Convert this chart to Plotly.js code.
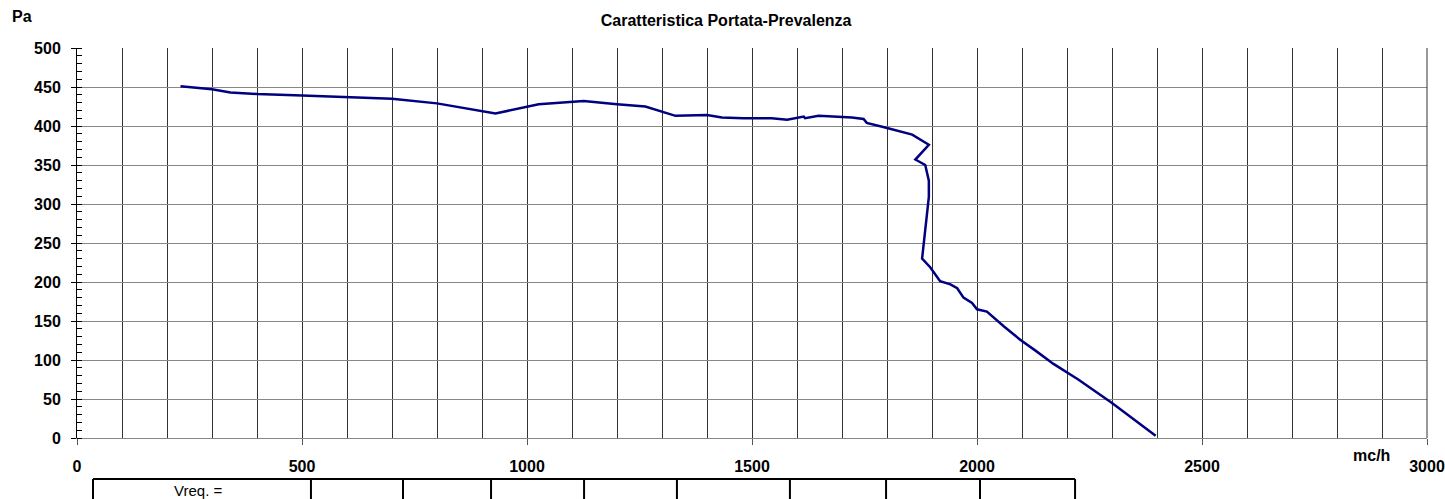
<!DOCTYPE html>
<html>
<head>
<meta charset="utf-8">
<script src="https://cdn.plot.ly/plotly-3.0.1.min.js"></script>
<style>
  html, body { margin: 0; padding: 0; background: #fff; }
  #chart { width: 1445px; height: 499px; }
</style>
</head>
<body>
<div id="chart"></div>
<script>
// Flow (mc/h) and pressure (Pa)
const flow = [230, 300, 341, 400, 500, 600, 700, 800, 930, 1026, 1126, 1200, 1263, 1330, 1400, 1433, 1481, 1544, 1578, 1615, 1618, 1648, 1696, 1722, 1748, 1755, 1796, 1856, 1893, 1863, 1885, 1893, 1893, 1878, 1896, 1918, 1941, 1956, 1970, 1989, 2000, 2022, 2060, 2096, 2130, 2170, 2225, 2300, 2397];
const pressure = [451, 447, 443, 441, 439, 437, 435, 429, 416, 428, 432, 428, 425, 413, 414, 411, 410, 410, 408, 412, 410, 413, 412, 411, 409, 404, 398, 389, 376, 357, 350, 330, 309, 230, 219, 201, 197, 192, 180, 173, 165, 162, 143, 126, 112, 95, 75, 45, 3];

const chartTitle = 'Caratteristica Portata-Prevalenza';
const xUnit = 'mc/h';
const yUnit = 'Pa';
const tableLabel = 'Vreq. =';
// table column borders (paper fractions)
const tableCols = [0.01185, 0.1733, 0.2415, 0.3067, 0.3756, 0.4444, 0.5281, 0.5993, 0.6689, 0.7393];

const FONT = 'Arial, "Liberation Sans", sans-serif';

const trace = {
  x: flow, y: pressure, type: 'scatter', mode: 'lines',
  line: { color: '#000080', width: 2.5 },
  hoverinfo: 'skip', showlegend: false
};

const shapes = [];
// right border of the plot
shapes.push({ type: 'line', xref: 'paper', yref: 'paper', x0: 1, x1: 1, y0: 0, y1: 1,
  line: { color: '#333', width: 1 } });
// table below the chart
const tTop = -0.1051, tBot = -0.25;
shapes.push({ type: 'line', xref: 'paper', yref: 'paper', x0: tableCols[0], x1: tableCols[tableCols.length - 1], y0: tTop, y1: tTop,
  line: { color: '#000', width: 2 } });
tableCols.forEach(c => shapes.push({ type: 'line', xref: 'paper', yref: 'paper', x0: c, x1: c, y0: tTop, y1: tBot,
  line: { color: '#000', width: 2 } }));

const layout = {
  width: 1445, height: 499,
  margin: { l: 77, r: 18, t: 48, b: 61 },
  paper_bgcolor: '#fff', plot_bgcolor: '#fff',
  font: { family: FONT, color: '#000' },
  title: { text: chartTitle, font: { family: FONT, size: 16, weight: 'bold', color: '#000' },
    xref: 'container', x: 0.5025, xanchor: 'center', yref: 'container', y: 0.96, yanchor: 'middle' },
  xaxis: {
    range: [0, 3000], dtick: 500, tick0: 0,
    showgrid: true, gridcolor: '#333', gridwidth: 1,
    minor: { dtick: 100, showgrid: true, gridcolor: '#333', gridwidth: 1, ticks: '' },
    showline: true, linecolor: '#888', linewidth: 1,
    ticks: 'outside', ticklen: 6, tickcolor: '#555',
    zeroline: false, ticklabelstandoff: 8,
    tickfont: { family: FONT, size: 16, weight: 'bold', color: '#000' }
  },
  yaxis: {
    range: [0, 500], dtick: 50, tick0: 0,
    showgrid: true, gridcolor: '#888', gridwidth: 1,
    minor: { dtick: 10, ticks: 'inside', ticklen: 5, tickcolor: '#000', showgrid: false },
    showline: true, linecolor: '#000', linewidth: 1,
    ticks: 'outside', ticklen: 5, tickcolor: '#000',
    zeroline: false, ticklabelstandoff: 7,
    tickfont: { family: FONT, size: 16, weight: 'bold', color: '#000' }
  },
  shapes: shapes,
  annotations: [
    { text: yUnit, xref: 'paper', yref: 'paper', x: (21.5 - 77) / 1350, y: (438 - 16) / 390,
      xanchor: 'center', yanchor: 'middle', showarrow: false,
      font: { family: FONT, size: 16, weight: 'bold', color: '#000' } },
    { text: xUnit, xref: 'paper', yref: 'paper', x: (1371 - 77) / 1350, y: (438 - 455) / 390,
      xanchor: 'center', yanchor: 'middle', showarrow: false,
      font: { family: FONT, size: 16, weight: 'bold', color: '#000' } },
    { text: tableLabel, xref: 'paper', yref: 'paper', x: (197.5 - 77) / 1350, y: (438 - 490) / 390,
      xanchor: 'center', yanchor: 'middle', showarrow: false,
      font: { family: FONT, size: 15, color: '#000' } }
  ]
};

Plotly.newPlot('chart', [trace], layout, { staticPlot: true, displayModeBar: false });
</script>
</body>
</html>
